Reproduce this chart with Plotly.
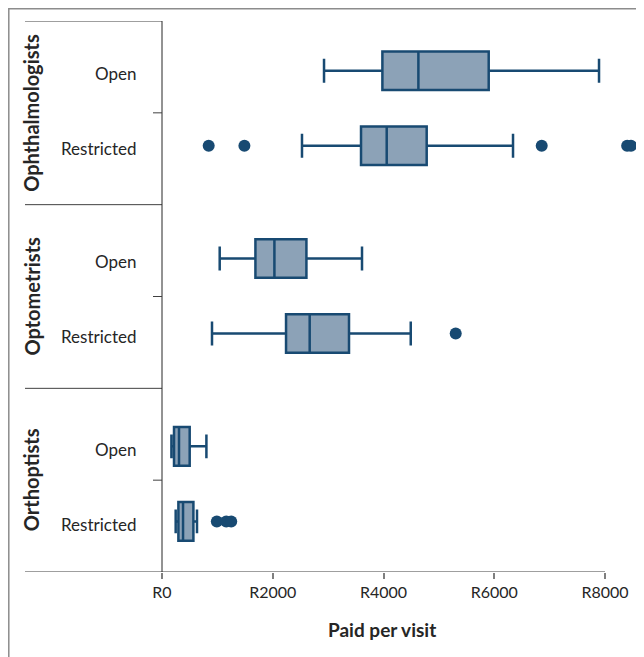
import plotly.graph_objects as go

# ---- data ----
professions = ["Ophthalmologists", "Optometrists", "Orthoptists"]
access = ["Open", "Restricted"]
lower_whisker = [2926, 2528, 1042, 903, 170, 247]
q1_vals = [3980, 3594, 1687, 2240, 217, 296]
median_vals = [4630, 4058, 2030, 2667, 307, 380]
q3_vals = [5900, 4780, 2608, 3377, 500, 567]
upper_whisker = [7892, 6339, 3612, 4492, 802, 632]
outliers = [[], [843, 1488, 6857, 8400, 8470], [], [5304], [], [990, 1160, 1250]]
x_ticks = [0, 2000, 4000, 6000, 8000]
x_tick_labels = ["R0", "R2000", "R4000", "R6000", "R8000"]

LINE = "#184a72"
FILL = "#8ca2b7"
TXT = "#262626"
FONT = "Lato"

OFF = 8  # page body offset
W, H = 644, 657
ML = 162 - OFF
MT = 21 - OFF
MB = H - (572 - OFF)
MR = 0
PW = W - ML - MR
PH = H - MT - MB


def px_x(px):
    return (px - OFF - ML) / PW


def px_y(py):
    return (H - MB - (py - OFF)) / PH


fig = go.Figure()

positions = []
for g in range(len(professions)):
    for k in range(len(access)):
        positions.append(0.2706 + g * 1.0227 + k * 0.4085)

for i, pos in enumerate(positions):
    fig.add_trace(go.Box(
        orientation="h",
        y=[pos],
        q1=[q1_vals[i]], median=[median_vals[i]], q3=[q3_vals[i]],
        lowerfence=[lower_whisker[i]], upperfence=[upper_whisker[i]],
        width=0.21, whiskerwidth=0.62,
        fillcolor=FILL, line=dict(color=LINE, width=2.5),
        boxpoints=False, showlegend=False,
    ))
    if outliers[i]:
        fig.add_trace(go.Scatter(
            x=outliers[i], y=[pos] * len(outliers[i]), mode="markers",
            marker=dict(color=LINE, size=12), showlegend=False, cliponaxis=False,
        ))

shapes = []
shapes.append(dict(type="rect", xref="paper", yref="paper",
                   x0=px_x(OFF + 0.8), x1=px_x(700), y0=px_y(OFF + 0.8), y1=px_y(720),
                   line=dict(color="#8c8c8c", width=1.5), layer="below"))
for gy in [0, 1, 2]:
    shapes.append(dict(type="line", xref="paper", yref="y",
                       x0=px_x(25), x1=0, y0=gy, y1=gy,
                       line=dict(color="#404040", width=1)))
shapes.append(dict(type="line", xref="paper", yref="y",
                   x0=px_x(25), x1=px_x(605), y0=3, y1=3,
                   line=dict(color="#7f7f7f", width=1.5)))
shapes.append(dict(type="line", xref="paper", yref="y",
                   x0=0, x1=0, y0=0, y1=3,
                   line=dict(color="#262626", width=1)))
for gy in [0.5, 1.5, 2.5]:
    shapes.append(dict(type="line", xref="paper", yref="y",
                       x0=px_x(153), x1=0, y0=gy, y1=gy,
                       line=dict(color="#404040", width=1)))

annotations = []
for i, pos in enumerate(positions):
    annotations.append(dict(xref="paper", yref="y", x=px_x(138), y=pos + 0.015,
                            text=access[i % 2], showarrow=False, xanchor="right",
                            yanchor="middle", font=dict(family=FONT, size=17, color=TXT)))
for g, name in enumerate(professions):
    annotations.append(dict(xref="paper", yref="y", x=px_x(31), y=g + 0.5,
                            text="<b>" + name + "</b>", showarrow=False, textangle=-90,
                            xanchor="center", yanchor="middle",
                            font=dict(family=FONT, size=20, color=TXT)))
annotations.append(dict(xref="paper", yref="paper", x=px_x(382), y=px_y(630),
                        text="<b>Paid per visit</b>", showarrow=False,
                        xanchor="center", yanchor="middle",
                        font=dict(family=FONT, size=19, color=TXT)))

fig.update_layout(
    width=W, height=H,
    margin=dict(l=ML, r=MR, t=MT, b=MB),
    plot_bgcolor="white", paper_bgcolor="white",
    shapes=shapes, annotations=annotations,
    xaxis=dict(range=[0, 8000 * PW / 443], tickvals=x_ticks, ticktext=x_tick_labels,
               ticks="outside", ticklen=6, tickcolor="#7f7f7f", tickwidth=1.5,
               showgrid=False, zeroline=False, showline=False,
               tickfont=dict(family=FONT, size=16, color=TXT)),
    yaxis=dict(range=[3, 0], showticklabels=False, showgrid=False,
               zeroline=False, showline=False, ticks=""),
)

fig.write_html("out.html")
